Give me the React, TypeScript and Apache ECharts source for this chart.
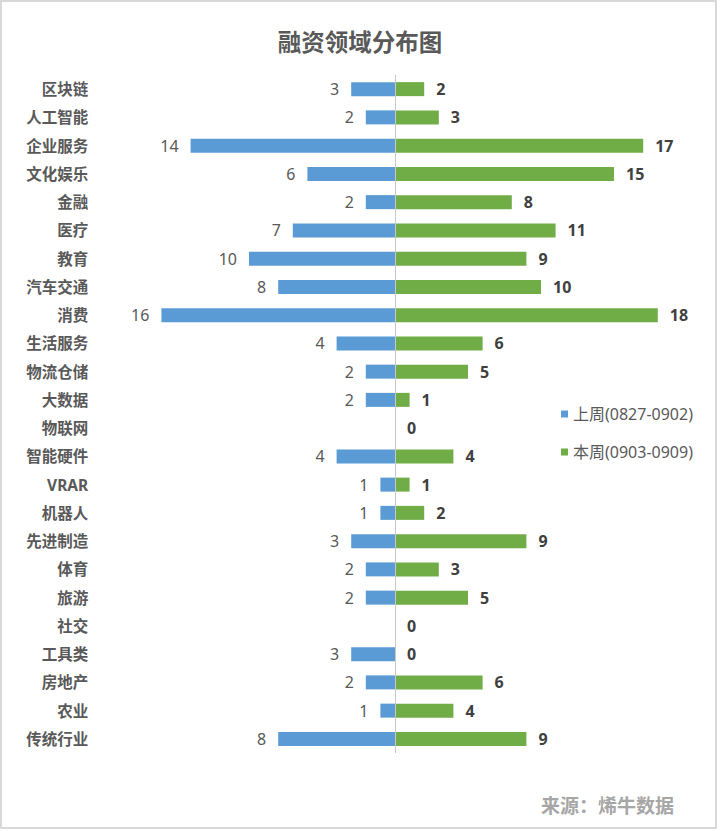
import React, { useEffect, useRef } from "react";
import * as echarts from "echarts";

const categories = [
  "区块链", "人工智能", "企业服务", "文化娱乐", "金融", "医疗", "教育", "汽车交通",
  "消费", "生活服务", "物流仓储", "大数据", "物联网", "智能硬件", "VRAR", "机器人",
  "先进制造", "体育", "旅游", "社交", "工具类", "房地产", "农业", "传统行业",
];
const lastWeek = [3, 2, 14, 6, 2, 7, 10, 8, 16, 4, 2, 2, 0, 4, 1, 1, 3, 2, 2, 0, 3, 2, 1, 8];
const thisWeek = [2, 3, 17, 15, 8, 11, 9, 10, 18, 6, 5, 1, 0, 4, 1, 2, 9, 3, 5, 0, 0, 6, 4, 9];
const seriesNames = ["上周(0827-0902)", "本周(0903-0909)"];
const titleText = "融资领域分布图";
const sourceText = "来源：烯牛数据";

const FONT = "'Noto Sans', 'Noto Sans CJK SC', sans-serif";

export default function App() {
  const ref = useRef<HTMLDivElement>(null);
  useEffect(() => {
    if (!ref.current) return;
    const chart = echarts.init(ref.current, undefined, { renderer: "svg" });
    chart.setOption({
      animation: false,
      backgroundColor: "#ffffff",
      textStyle: { fontFamily: FONT },
      title: {
        text: titleText,
        left: "center",
        top: 25,
        textStyle: { fontSize: 23.5, fontWeight: "bold", color: "#595959", fontFamily: FONT },
      },
      legend: {
        data: seriesNames,
        orient: "vertical",
        left: 556,
        top: 401,
        icon: "rect",
        itemWidth: 7,
        itemHeight: 7,
        itemGap: 22,
        textStyle: { fontSize: 16, color: "#595959", fontFamily: FONT },
      },
      grid: { left: 132.2, right: 62.2, top: 75, bottom: 78, containLabel: false },
      xAxis: {
        type: "value",
        min: -18,
        max: 18,
        show: false,
      },
      yAxis: {
        type: "category",
        data: categories,
        inverse: true,
        axisLine: { show: false },
        axisTick: { show: false },
        axisLabel: {
          margin: 44,
          fontSize: 15.5,
          fontWeight: "bold",
          color: "#595959",
          fontFamily: FONT,
        },
      },
      graphic: [
        {
          type: "rect",
          shape: { x: 1, y: 1, width: 715, height: 827 },
          style: { fill: "none", stroke: "#d9d9d9", lineWidth: 2 },
          silent: true,
        },
        {
          type: "text",
          right: 46,
          top: 796,
          style: {
            text: sourceText,
            fontSize: 19,
            fontWeight: "bold",
            fill: "#a6a6a6",
            fontFamily: FONT,
          },
        },
      ],
      series: [
        {
          name: seriesNames[0],
          type: "bar",
          data: lastWeek.map((v) => -v),
          barWidth: 14,
          barGap: "-100%",
          itemStyle: { color: "#5b9bd5" },
          label: {
            show: true,
            position: "left",
            distance: 12,
            fontSize: 16,
            color: "#595959",
            fontFamily: FONT,
            formatter: (p: any) => (p.value === 0 ? "" : String(Math.abs(p.value))),
          },
        },
        {
          name: seriesNames[1],
          type: "bar",
          data: thisWeek,
          barWidth: 14,
          itemStyle: { color: "#70ad47" },
          label: {
            show: true,
            position: "right",
            distance: 12,
            fontSize: 16,
            fontWeight: "bold",
            color: "#404040",
            fontFamily: FONT,
          },
          markLine: {
            silent: true,
            symbol: "none",
            label: { show: false },
            lineStyle: { color: "#c8c8c8", width: 1, type: "solid" },
            data: [{ xAxis: 0 }],
          },
        },
      ],
    });
    return () => chart.dispose();
  }, []);
  return (
    <div
      ref={ref}
      style={{ position: "absolute", left: 0, top: 0, width: 720, height: 831 }}
    />
  );
}
